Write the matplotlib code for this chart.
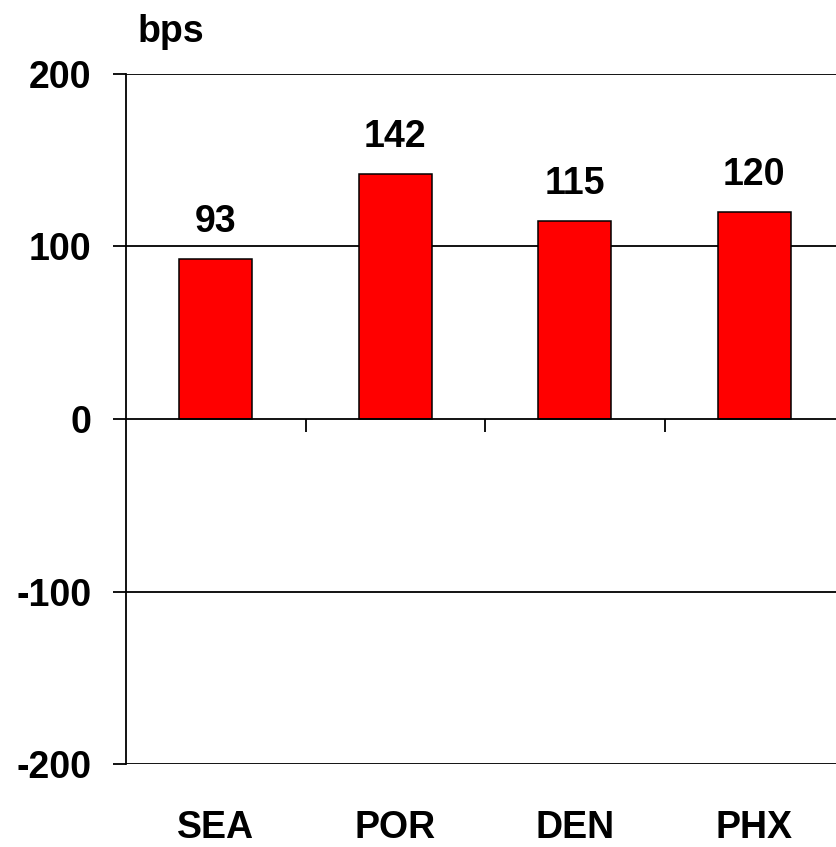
import matplotlib
matplotlib.use("Agg")
import matplotlib.pyplot as plt
import matplotlib.transforms as mtransforms
from matplotlib import font_manager

categories = ["SEA", "POR", "DEN", "PHX"]
values = [93, 142, 115, 120]
yticks = [-200, -100, 0, 100, 200]
unit_label = "bps"

names = {f.name for f in font_manager.fontManager.ttflist}
main_font = "Liberation Sans" if "Liberation Sans" in names else "DejaVu Sans"

W, H, DPI = 836, 847, 100
fig = plt.figure(figsize=(W / DPI, H / DPI), dpi=DPI)
left_px, right_px = 126, 844
top_px, bot_px = 74, 764
ax = fig.add_axes([left_px / W, (H - bot_px) / H, (right_px - left_px) / W, (bot_px - top_px) / H])

n = len(categories)
xs = list(range(n))
ax.bar(xs, values, width=0.406, color="#FF0000", edgecolor="black", linewidth=1.1, zorder=3)

ax.set_xlim(-0.5, n - 0.5)
ax.set_ylim(-200, 200)

lw = 1.3
for y in yticks:
    if y != 0:
        ax.axhline(y, color="black", lw=lw, zorder=1)

for s in ["top", "right"]:
    ax.spines[s].set_visible(False)
ax.spines["left"].set_linewidth(lw)
ax.spines["bottom"].set_position(("data", 0))
ax.spines["bottom"].set_linewidth(lw)
ax.spines["bottom"].set_zorder(4)

ax.set_yticks(yticks)
ax.set_yticklabels([str(v) for v in yticks])
ax.tick_params(axis="y", direction="out", length=9.4, width=lw, pad=15.5,
               labelsize=27)
for lab in ax.get_yticklabels():
    lab.set_fontfamily(main_font)
    lab.set_fontweight("bold")

boundaries = [i + 0.5 for i in range(n - 1)]
ax.set_xticks(boundaries)
ax.set_xticklabels([])
ax.tick_params(axis="x", direction="out", length=9.4, width=lw)

for x, v in zip(xs, values):
    ax.annotate(str(v), (x, v), xytext=(0, 19.4), textcoords="offset points",
                ha="center", va="baseline", fontsize=27, fontweight="bold",
                family=main_font)

trans = mtransforms.blended_transform_factory(ax.transData, fig.transFigure)
for x, c in zip(xs, categories):
    ax.text(x, (H - 838) / H, c, transform=trans,
            ha="center", va="baseline", fontsize=27, fontweight="bold", family=main_font)

fig.text(171 / W, (H - 42) / H, unit_label, ha="center", va="baseline",
         fontsize=27, fontweight="bold", family=main_font)

fig.savefig("out.png", dpi=DPI)
